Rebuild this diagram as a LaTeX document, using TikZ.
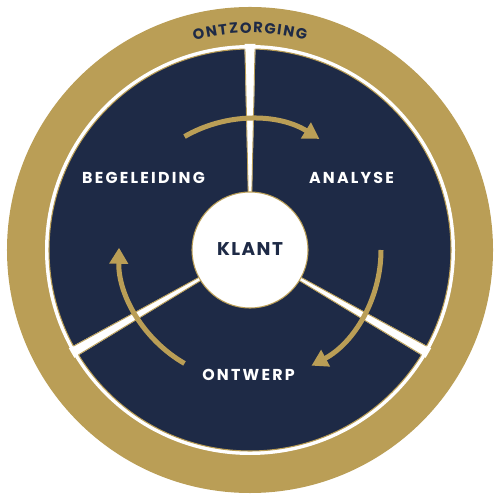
\documentclass[tikz,border=0pt]{standalone}
\usepackage{fontspec}
\usetikzlibrary{arrows.meta}
\newfontfamily\labfont{Poppins}[LetterSpace=14]
\newfontfamily\ringfont{Poppins}
\newfontfamily\klantfont{Poppins}[LetterSpace=8]
\definecolor{gold}{RGB}{186,158,86}
\definecolor{navy}{RGB}{30,42,70}
\tikzset{
  lab/.style={font=\labfont\bfseries\fontsize{9}{10}\selectfont, text=white, anchor=base, inner sep=0pt},
  ringlab/.style={font=\ringfont\bfseries\fontsize{8.4}{10}\selectfont, text=navy, anchor=base, inner sep=0pt},
  cyclearrow/.style={draw=gold, line width=0.1cm, -{Triangle[length=0.32cm,width=0.36cm]}},
  sepline/.style={draw=gold, line width=0.5pt},
}
\begin{document}
\begin{tikzpicture}
\useasboundingbox (-5,-5) rectangle (5,5);
% outer gold ring
\fill[gold] (0,0) circle[radius=4.86cm];
\fill[white] (0,0) circle[radius=4.1cm];
% navy disc
\fill[navy] (0,0) circle[radius=4.02cm];
\draw[gold, line width=0.6pt] (0,0) circle[radius=4.02cm];
% separators
\foreach \ang in {90,210,330}{
  \begin{scope}[rotate=\ang]
    \fill[white] (1.0,-0.035) -- (4.12,-0.11) -- (4.12,0.11) -- (1.0,0.035) -- cycle;
    \draw[sepline] (1.1,-0.035) -- (4.02,-0.1);
    \draw[sepline] (1.1,0.035) -- (4.02,0.1);
  \end{scope}
}
% centre circle
\node[circle, fill=white, draw=gold, line width=0.6pt, minimum size=2.32cm, inner sep=0pt] (klant) at (0,0) {};
\node[font=\klantfont\bfseries\fontsize{10.5}{12}\selectfont, text=navy, anchor=base, inner sep=0pt] (klanttxt) at (0,-0.12) {KLANT};
% cycle arrows
\draw[cyclearrow] (120:2.62) arc[start angle=120, end angle=58, radius=2.62cm];
\draw[cyclearrow] (0:2.62) arc[start angle=0, end angle=-62, radius=2.62cm];
\draw[cyclearrow] (240:2.62) arc[start angle=240, end angle=179, radius=2.62cm];
% labels
\node[lab] (begeleiding) at (-2.13,1.32) {BEGELEIDING};
\node[lab] (analyse) at (2.03,1.32) {ANALYSE};
\node[lab] (ontwerp) at (-0.03,-2.62) {ONTWERP};
% ring text
\foreach \l/\a [count=\i] in {O/103.4, N/100.0, T/97.0, Z/94.2, O/91.1, R/87.9, G/84.8, I/82.4, N/79.9, G/76.6}{
  \node[ringlab, rotate=\a-90] (oz\i) at (\a:4.34) {\l};
}
\end{tikzpicture}
\end{document}
